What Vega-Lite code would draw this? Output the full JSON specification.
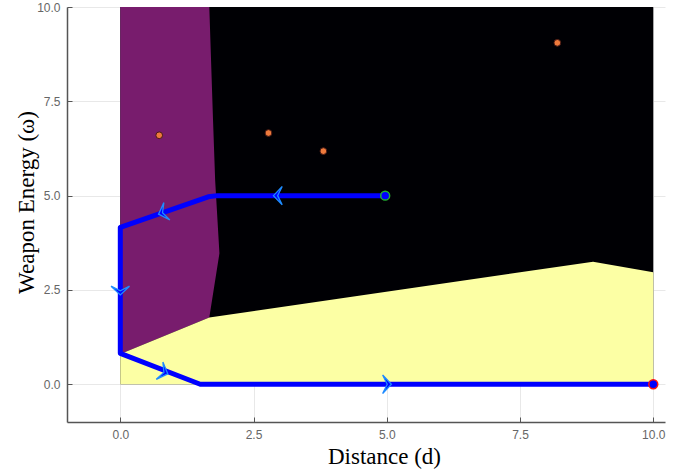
{
  "$schema": "https://vega.github.io/schema/vega-lite/v6.json",
  "width": 598,
  "height": 415,
  "autosize": "none",
  "padding": {"left": 67, "top": 7, "right": 26, "bottom": 50},
  "background": "white",
  "config": {
    "view": {"stroke": null},
    "axis": {
      "grid": true,
      "gridColor": "#e8e8e8",
      "gridWidth": 1,
      "domainColor": "#555555",
      "domainWidth": 1.5,
      "tickColor": "#555555",
      "tickSize": -5,
      "tickWidth": 1,
      "labelPadding": 12,
      "labelColor": "#666666",
      "labelFont": "Liberation Sans",
      "labelFontSize": 12,
      "titleFont": "Liberation Serif",
      "titleFontSize": 23,
      "titleFontWeight": "normal",
      "titleColor": "#000000"
    }
  },
  "encoding": {
    "x": {
      "field": "x",
      "type": "quantitative",
      "scale": {"domain": [-1, 10.22], "nice": false, "zero": false},
      "axis": {"values": [0, 2.5, 5, 7.5, 10], "format": ".1f", "title": "Distance (d)", "titleX": 317, "titleY": 41, "titleBaseline": "alphabetic", "titleAnchor": null, "titleAlign": "center"}
    },
    "y": {
      "field": "y",
      "type": "quantitative",
      "scale": {"domain": [-1, 10], "nice": false, "zero": false},
      "axis": {"values": [0, 2.5, 5, 7.5, 10], "format": ".1f", "title": "Weapon Energy (ω)", "titleX": -34, "titleY": 195, "titleBaseline": "alphabetic", "titleAngle": -90, "titleAlign": "center"}
    }
  },
  "layer": [
    {
      "data": {"values": [{"x": 0, "x2": 10, "y": 0, "y2": 10}]},
      "mark": {"type": "rect", "color": "#000004"},
      "encoding": {"x2": {"field": "x2"}, "y2": {"field": "y2"}}
    },
    {
      "data": {"values": [
        {"y": 0.8, "x": 0, "x2": 0},
        {"y": 1.77, "x": 1.67, "x2": 0},
        {"y": 3.47, "x": 1.86, "x2": 0},
        {"y": 5.4, "x": 1.78, "x2": 0},
        {"y": 7.0, "x": 1.74, "x2": 0},
        {"y": 10.0, "x": 1.67, "x2": 0}
      ]},
      "mark": {"type": "area", "orient": "horizontal", "color": "#781C6D", "opacity": 1},
      "encoding": {"x2": {"field": "x2"}}
    },
    {
      "data": {"values": [
        {"x": 0, "y": 0.8, "y2": 0},
        {"x": 1.67, "y": 1.77, "y2": 0},
        {"x": 8.87, "y": 3.25, "y2": 0},
        {"x": 10, "y": 2.97, "y2": 0}
      ]},
      "mark": {"type": "area", "orient": "vertical", "color": "#FCFFA4", "opacity": 1},
      "encoding": {"y2": {"field": "y2"}}
    },
    {
      "data": {"values": [
        {"i": 1, "x": 4.97, "y": 5.0},
        {"i": 2, "x": 1.82, "y": 5.0},
        {"i": 3, "x": 1.65, "y": 4.97},
        {"i": 4, "x": 0, "y": 4.16},
        {"i": 5, "x": 0, "y": 0.82},
        {"i": 6, "x": 1.5, "y": 0},
        {"i": 7, "x": 10, "y": 0}
      ]},
      "mark": {"type": "line", "color": "#0000FF", "strokeWidth": 5, "strokeJoin": "round", "strokeCap": "round"},
      "encoding": {"order": {"field": "i", "type": "quantitative"}}
    },
    {
      "data": {"values": [
        {"x": 2.96, "y": 5.0, "angle": 180},
        {"x": 0.8, "y": 4.55, "angle": 161},
        {"x": 0, "y": 2.49, "angle": 90},
        {"x": 0.81, "y": 0.32, "angle": 21},
        {"x": 5.0, "y": 0, "angle": 0}
      ]},
      "mark": {"type": "point", "shape": "M -0.45 -1 L 0.5 0 L -0.45 1 L 0.05 0 Z", "filled": true, "fill": "#0000FF", "stroke": "#1E8CFF", "strokeWidth": 1.3, "strokeJoin": "miter", "size": 340, "opacity": 1},
      "encoding": {"angle": {"field": "angle", "type": "quantitative", "scale": null}}
    },
    {
      "data": {"values": [
        {"x": 0.73, "y": 6.6},
        {"x": 2.78, "y": 6.66},
        {"x": 3.81, "y": 6.18},
        {"x": 8.2, "y": 9.05}
      ]},
      "mark": {"type": "circle", "fill": "#EE7A3C", "stroke": "#4a1a14", "strokeWidth": 1, "size": 45, "opacity": 1}
    },
    {
      "data": {"values": [{"x": 4.97, "y": 5.0}]},
      "mark": {"type": "circle", "fill": "#0000FF", "stroke": "#22B030", "strokeWidth": 1.5, "size": 80, "opacity": 1}
    },
    {
      "data": {"values": [{"x": 10, "y": 0}]},
      "mark": {"type": "circle", "fill": "#0000FF", "stroke": "#FF1010", "strokeWidth": 1.5, "size": 80, "opacity": 1}
    }
  ]
}
